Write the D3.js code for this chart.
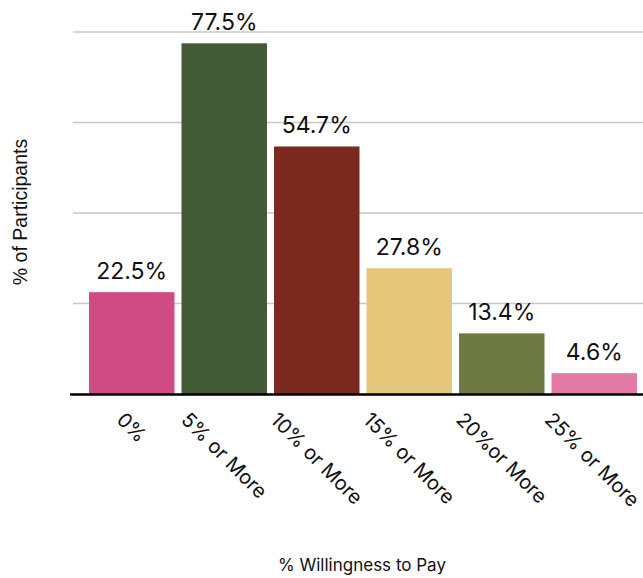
<!DOCTYPE html>
<html>
<head>
<meta charset="utf-8">
<script src="https://cdn.jsdelivr.net/npm/d3@7"></script>
<style>
body { margin: 0; background: #fff; }
text { fill: #111; }
</style>
</head>
<body>
<svg id="chart" width="643" height="578"></svg>
<script>
// data
const categories = ['0%', '5% or More', '10% or More', '15% or More', '20%or More', '25% or More'];
const values = [22.5, 77.5, 54.7, 27.8, 13.4, 4.6];
const barColors = ['#d04a84', '#435a37', '#7b291f', '#e5c77b', '#6e7a42', '#e27aa5'];
const gridTicks = [20, 40, 60, 80];

const svg = d3.select('#chart');
const labelFont = 'Inter, "DejaVu Sans", sans-serif';

const x = d3.scaleBand().domain(categories).range([89, 637]).paddingInner(0.076).paddingOuter(0);
const y = d3.scaleLinear().domain([0, 80]).range([394, 32]);

// grid
svg.append('g').selectAll('line')
    .data(gridTicks)
    .join('line')
    .attr('x1', 73).attr('x2', 643)
    .attr('y1', d => y(d)).attr('y2', d => y(d))
    .attr('stroke', '#c8c8c8').attr('stroke-width', 1.5);

// bars
svg.append('g').selectAll('rect')
    .data(values)
    .join('rect')
    .attr('x', (d, i) => x(categories[i]))
    .attr('width', x.bandwidth())
    .attr('y', d => y(d))
    .attr('height', d => y(0) - y(d))
    .attr('fill', (d, i) => barColors[i]);

// baseline
svg.append('line')
    .attr('x1', 70).attr('x2', 643)
    .attr('y1', y(0) + 0.5).attr('y2', y(0) + 0.5)
    .attr('stroke', '#000').attr('stroke-width', 2.5);

// value labels
svg.append('g').selectAll('text')
    .data(values)
    .join('text')
    .attr('x', (d, i) => x(categories[i]) + x.bandwidth() / 2)
    .attr('y', d => y(d) - 13)
    .attr('text-anchor', 'middle')
    .style('font-family', labelFont)
    .style('font-size', '23px')
    .text(d => d + '%');

// rotated tick labels, box centred on the band, top at a fixed line
const ticks = svg.append('g').selectAll('text')
    .data(categories)
    .join('text')
    .attr('text-anchor', 'middle')
    .attr('dy', '0.35em')
    .style('font-family', labelFont)
    .style('font-size', '20px')
    .text(d => d);

ticks.attr('transform', function (d) {
    let len = this.getComputedTextLength();
    let cx = x(d) + x.bandwidth() / 2 - (d == categories[categories.length - 1] ? 2 : 0);
    let cy = 411 + (len / 2 + 7) * Math.SQRT1_2;
    return 'translate(' + cx + ',' + cy + ') rotate(45)';
});

// axis titles
svg.append('text')
    .attr('transform', 'translate(27,212) rotate(-90)')
    .attr('text-anchor', 'middle')
    .style('font-family', '"Liberation Sans", Arial, sans-serif')
    .style('font-size', '19.5px')
    .text('% of Participants');

svg.append('text')
    .attr('x', 362).attr('y', 571)
    .attr('text-anchor', 'middle')
    .style('font-family', labelFont)
    .style('font-size', '17px')
    .text('% Willingness to Pay');
</script>
</body>
</html>
